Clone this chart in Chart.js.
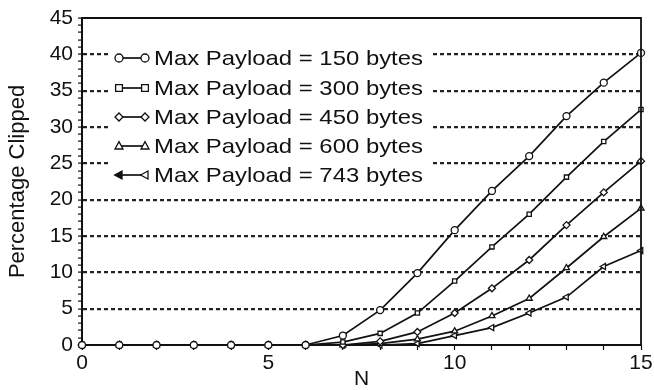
<!DOCTYPE html>
<html>
<head>
<meta charset="utf-8">
<script src="https://cdn.jsdelivr.net/npm/chart.js@4/dist/chart.umd.min.js"></script>
<style>
  html, body { margin: 0; padding: 0; background: #fff; }
  #wrap { width: 654px; height: 390px; position: relative; }
</style>
</head>
<body>
<div id="wrap"><canvas id="c" width="654" height="390"></canvas></div>
<script>
// ---- data ----
const nValues = [0,1,2,3,4,5,6,7,8,9,10,11,12,13,14,15];
const payload150 = [0,0,0,0,0,0,0,1.3,4.8,9.9,15.8,21.2,26.0,31.5,36.1,40.2];
const payload300 = [0,0,0,0,0,0,0,0.4,1.6,4.4,8.8,13.5,18.0,23.1,28.0,32.4];
const payload450 = [0,0,0,0,0,0,0,0,0.5,1.8,4.4,7.8,11.7,16.5,21.0,25.3];
const payload600 = [0,0,0,0,0,0,0,0,0.2,0.8,1.9,4.0,6.4,10.6,14.9,18.8];
const payload743 = [0,0,0,0,0,0,0,0,0,0.2,1.3,2.4,4.4,6.6,10.8,13.0];
const seriesLabels = [
  'Max Payload = 150 bytes',
  'Max Payload = 300 bytes',
  'Max Payload = 450 bytes',
  'Max Payload = 600 bytes',
  'Max Payload = 743 bytes'
];
const xTitle = 'N';
const yTitle = 'Percentage Clipped';

const FONT = '"Liberation Sans", Arial, Helvetica, sans-serif';

function pts(arr) { return arr.map((v, i) => ({x: nValues[i], y: v})); }

const markerStyles = ['circle', 'rect', 'rectRot', 'triangle', 'triangle'];
const markerRot = [0, 0, 0, 0, -90];
const seriesData = [payload150, payload300, payload450, payload600, payload743];

const datasets = seriesData.map((arr, i) => ({
  label: seriesLabels[i],
  data: pts(arr),
  borderColor: '#111',
  borderWidth: 1.7,
  pointStyle: markerStyles[i],
  rotation: markerRot[i],
  pointRadius: markerStyles[i] === 'rect' ? 3 : 3.5,
  pointBackgroundColor: '#fff',
  pointBorderColor: '#111',
  pointBorderWidth: 1.3,
  tension: 0,
  clip: false
}));

// custom marker drawing for the in-plot legend
function drawMarker(ctx, style, x, y, r, rot, filled) {
  ctx.save();
  ctx.translate(x, y);
  ctx.rotate(rot * Math.PI / 180);
  ctx.beginPath();
  if (style === 'circle') {
    ctx.arc(0, 0, r, 0, Math.PI * 2);
  } else if (style === 'rect') {
    ctx.rect(-r * 0.85, -r * 0.85, r * 1.7, r * 1.7);
  } else if (style === 'rectRot') {
    ctx.moveTo(0, -r); ctx.lineTo(r, 0); ctx.lineTo(0, r); ctx.lineTo(-r, 0); ctx.closePath();
  } else if (style === 'triangle') {
    ctx.moveTo(0, -r * 1.1); ctx.lineTo(r, r * 0.75); ctx.lineTo(-r, r * 0.75); ctx.closePath();
  }
  ctx.fillStyle = filled ? '#111' : '#fff';
  ctx.fill();
  ctx.lineWidth = 1.3;
  ctx.strokeStyle = '#111';
  ctx.stroke();
  ctx.restore();
}

const framePlugin = {
  id: 'frame',
  afterDraw(chart) {
    const {ctx, chartArea: a} = chart;
    ctx.save();
    // top and right frame lines
    ctx.strokeStyle = '#111';
    ctx.lineWidth = 1.8;
    ctx.beginPath();
    ctx.moveTo(a.left, a.top);
    ctx.lineTo(a.right, a.top);
    ctx.lineTo(a.right, a.bottom);
    ctx.stroke();

    // in-plot legend
    ctx.fillStyle = '#fff';
    ctx.fillRect(109, 40, 321, 150);
    const rowY = [58, 88, 117, 146, 175];
    seriesLabels.forEach((lab, i) => {
      const y = rowY[i];
      ctx.strokeStyle = '#111';
      ctx.lineWidth = 1.7;
      ctx.beginPath();
      ctx.moveTo(118, y);
      ctx.lineTo(146, y);
      ctx.stroke();
      drawMarker(ctx, markerStyles[i], 119, y, 4, markerRot[i], i === 4);
      drawMarker(ctx, markerStyles[i], 145, y, 4, markerRot[i], false);
      ctx.font = '21px ' + FONT;
      ctx.fillStyle = '#111';
      ctx.textBaseline = 'middle';
      ctx.textAlign = 'left';
      const w = ctx.measureText(lab).width;
      const sx = 269 / w;
      ctx.save();
      ctx.translate(154, y + 1);
      ctx.scale(sx, 1);
      ctx.fillText(lab, 0, 0);
      ctx.restore();
    });
    ctx.restore();
  }
};

new Chart(document.getElementById('c'), {
  type: 'line',
  data: { datasets },
  plugins: [framePlugin],
  options: {
    responsive: false,
    animation: false,
    devicePixelRatio: 1,
    layout: { padding: { top: 18, right: 13, left: 0, bottom: 0 } },
    plugins: { legend: { display: false }, tooltip: { enabled: false } },
    scales: {
      x: {
        type: 'linear',
        min: 0, max: 15,
        afterFit(s) { s.height = 45; },
        ticks: {
          stepSize: 1,
          autoSkip: false,
          maxRotation: 0,
          padding: 1,
          color: '#111',
          font: { family: FONT, size: 21 },
          callback: v => (v % 5 === 0 ? String(v) : '')
        },
        grid: {
          drawOnChartArea: false,
          drawTicks: true,
          tickLength: 5,
          tickColor: '#111',
          tickWidth: 1.2,
          color: 'rgba(0,0,0,0)'
        },
        border: { display: true, color: '#111', width: 2 },
        title: {
          display: true, text: xTitle, color: '#111',
          font: { family: FONT, size: 21, lineHeight: 1 },
          padding: { top: 0, bottom: 0 }
        }
      },
      y: {
        type: 'linear',
        min: 0, max: 45,
        afterFit(s) { s.width = 82; },
        ticks: {
          stepSize: 1,
          autoSkip: false,
          padding: 5,
          color: '#111',
          font: { family: FONT, size: 21 },
          callback: v => (v % 5 === 0 ? String(v) : '')
        },
        grid: {
          drawOnChartArea: true,
          drawTicks: true,
          tickLength: 4,
          tickColor: '#111',
          tickWidth: 1.2,
          lineWidth: 2.2,
          color: c => (c.tick && c.tick.value % 5 === 0 && c.tick.value > 0 && c.tick.value < 45) ? '#222' : 'rgba(0,0,0,0)'
        },
        border: { display: true, color: '#111', width: 2, dash: [4, 3] },
        title: {
          display: true, text: yTitle, color: '#111',
          font: { family: FONT, size: 22 },
          padding: { top: 5, bottom: 0 }
        }
      }
    }
  }
});
</script>
</body>
</html>
